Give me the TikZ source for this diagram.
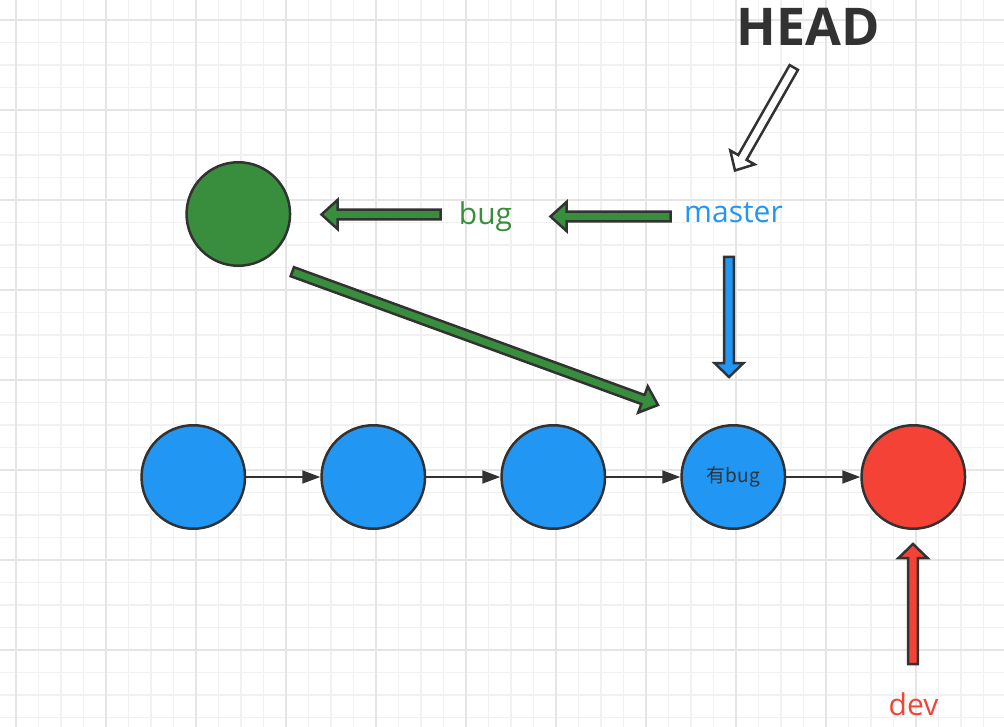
\documentclass[tikz,border=0pt]{standalone}
\usepackage{fontspec}
\setmainfont{Open Sans}
\newfontfamily\cjk{Noto Sans CJK SC}
\usetikzlibrary{arrows.meta,calc}
\definecolor{gridminor}{HTML}{F1F1F1}
\definecolor{gridmajor}{HTML}{E5E5E5}
\definecolor{dark}{HTML}{323232}
\definecolor{cblue}{HTML}{2196F3}
\definecolor{cgreen}{HTML}{388E3C}
\definecolor{cred}{HTML}{F44336}
\tikzset{
  commit/.style={circle, draw=dark, line width=2.5pt, minimum size=103.5pt, inner sep=0pt},
  link/.style={draw=dark, line width=1.6pt, -{Triangle[length=18pt,width=13pt]}},
  blockarrow/.style={draw=dark, line width=2.5pt, line join=miter},
  label/.style={font=\fontsize{30}{36}\selectfont, inner sep=0pt, anchor=base},
}
% #1 tail, #2 tip, #3 fill, #4 shaft half width, #5 head half width, #6 head length
\newcommand{\blockarr}[6]{%
  \coordinate (hbtmp) at ($(#2)!#6!(#1)$);
  \draw[blockarrow, fill=#3]
    ($(#1)!#4!90:(#2)$) -- ($(hbtmp)!#4!90:(#2)$) -- ($(hbtmp)!#5!90:(#2)$)
    -- (#2) -- ($(hbtmp)!#5!-90:(#2)$) -- ($(hbtmp)!#4!-90:(#2)$)
    -- ($(#1)!#4!-90:(#2)$) -- cycle;
}
\begin{document}
\begin{tikzpicture}[x=1pt, y=-1pt]
\useasboundingbox (0,0) rectangle (1004,727);
\fill[white] (0,0) rectangle (1004,727);
% grid
\foreach \i in {0,...,43} \draw[gridminor, line width=1.4pt] ({16+22.5*\i},0) -- ({16+22.5*\i},727);
\foreach \j in {0,...,31} \draw[gridminor, line width=1.4pt] (0,{20+22.5*\j}) -- (1004,{20+22.5*\j});
\foreach \i in {0,...,10} \draw[gridmajor, line width=1.4pt] ({16+90*\i},0) -- ({16+90*\i},727);
\foreach \j in {0,...,7} \draw[gridmajor, line width=1.4pt] (0,{20+90*\j}) -- (1004,{20+90*\j});

% commits
\node[commit, fill=cblue] (c1) at (193.3,477) {};
\node[commit, fill=cblue] (c2) at (373.3,477) {};
\node[commit, fill=cblue] (c3) at (553.3,477) {};
\node[commit, fill=cblue, font=\cjk\fontsize{19}{22}\selectfont, text=dark] (c4) at (733.3,477) {\raisebox{-2pt}{有bug}};
\node[commit, fill=cred] (c5) at (913.3,477) {};
\node[commit, fill=cgreen] (g1) at (238.3,214) {};

\draw[link] (c1) -- (c2);
\draw[link] (c2) -- (c3);
\draw[link] (c3) -- (c4);
\draw[link] (c4) -- (c5);

% labels
\node[font=\bfseries\fontsize{52}{60}\selectfont, text=dark, inner sep=0pt] (head) at (808.5,27) {HEAD};
\node[label, text=cblue] (master) at (733.5,223) {master};
\node[label, text=cgreen] (bug) at (485.5,225) {bug};
\node[label, text=cred] (dev) at (913.5,715) {dev};

% arrow end points
\coordinate (headT) at (793.8,67.5);
\coordinate (headH) at (735,170.5);
\coordinate (mbT) at (670.5,216.5);
\coordinate (mbH) at (550.5,216.5);
\coordinate (bgT) at (440.5,214.5);
\coordinate (bgH) at (321.5,214.5);
\coordinate (diagT) at (292.3,271.7);
\coordinate (diagH) at (658,405);
\coordinate (mvT) at (729,257);
\coordinate (mvH) at (729,377);
\coordinate (dvT) at (913,664);
\coordinate (dvH) at (913,544);

\blockarr{headT}{headH}{white}{4.8pt}{14pt}{15pt}
\blockarr{mbT}{mbH}{cgreen}{4.8pt}{14.5pt}{16pt}
\blockarr{bgT}{bgH}{cgreen}{4.8pt}{14.5pt}{16pt}
\blockarr{diagT}{diagH}{cgreen}{4.8pt}{14pt}{16pt}
\blockarr{mvT}{mvH}{cblue}{4.8pt}{14.5pt}{14pt}
\blockarr{dvT}{dvH}{cred}{4.8pt}{14.5pt}{14pt}
\end{tikzpicture}
\end{document}
